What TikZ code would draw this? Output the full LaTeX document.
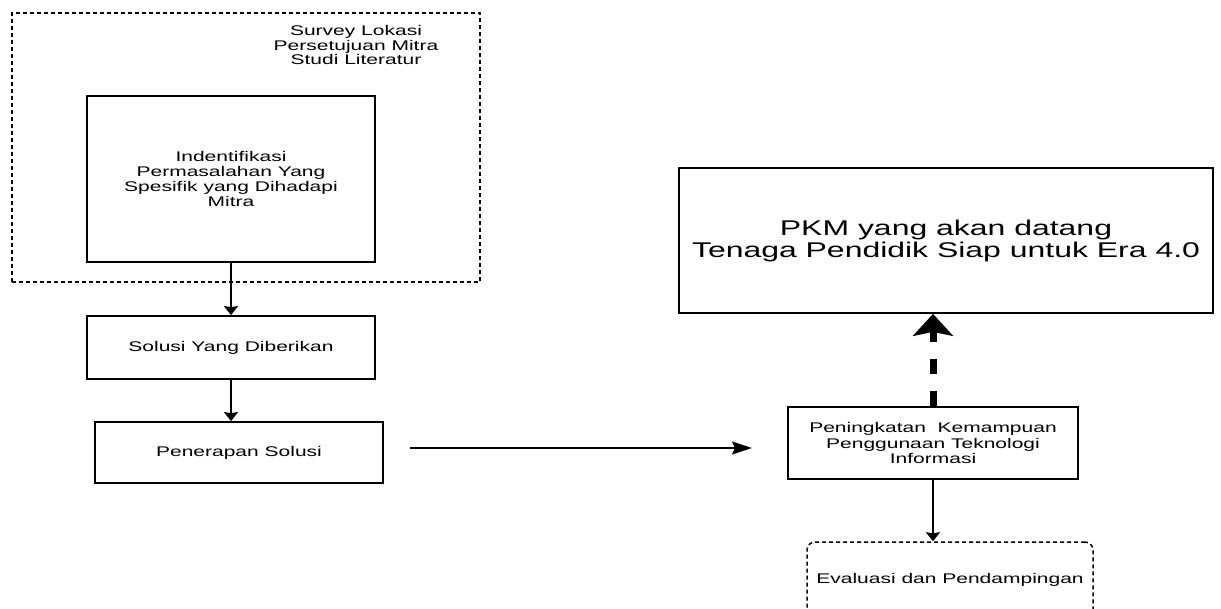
\documentclass[tikz,border=0pt]{standalone}
\usepackage{fontspec}
\setmainfont{Liberation Sans}[FakeStretch=1.5]
\usepackage{tikz}
\usetikzlibrary{arrows.meta}

\begin{document}
\begin{tikzpicture}
        [x=1pt, y=-1pt, every node/.style={draw, line width=1.8pt, rectangle, align=center, inner sep=0pt},
         teks/.style={font=\fontsize{14}{15.3}\selectfont},
         putus/.style={dash pattern=on 4pt off 3pt, line width=1.5pt},
         arr/.style={line width=1.8pt, -{Stealth[length=9pt,width=14pt,inset=1pt]}},
         arrh/.style={line width=1.8pt, -{Stealth[length=20pt,width=13pt,inset=3pt]}},
         tebal/.style={line width=7pt, dash pattern=on 15pt off 17pt, -{Stealth[length=22pt,width=40pt,inset=4pt]}}]
        \clip (0,0) rectangle (1221,608);
        % tahap awal
        \node[putus, minimum width=468, minimum height=269] (tahap) at (246,147.5) {};
        \node[draw=none, teks, font=\fontsize{14}{14.5}\selectfont] (survei) at (356,45) {Survey Lokasi\\Persetujuan Mitra\\Studi Literatur};
        \node[teks, minimum width=288, minimum height=166] (ident) at (231,179) {Indentifikasi\\Permasalahan Yang\\Spesifik yang Dihadapi\\Mitra};
        \node[teks, minimum width=288, minimum height=63] (solusi) at (231,347.5) {Solusi Yang Diberikan};
        \node[teks, minimum width=288, minimum height=61] (penerapan) at (239,452.5) {Penerapan Solusi};
        % hasil
        \node[teks, minimum width=290, minimum height=72] (peningkatan) at (933,443) {Peningkatan\ \ Kemampuan\\Penggunaan Teknologi\\Informasi};
        \node[font=\fontsize{21.3}{22}\selectfont, minimum width=534, minimum height=145] (pkm) at (946,240.5) {PKM yang akan datang\\Tenaga Pendidik Siap untuk Era 4.0};
        \node[teks, putus, rounded corners=8pt, minimum width=286, minimum height=76] (evaluasi) at (950,580) {Evaluasi dan Pendampingan};

        \coordinate (ha) at (410,448);
        \coordinate (hb) at (752,448);

        \foreach \from/\to in {ident/solusi,solusi/penerapan,peningkatan/evaluasi}
        \draw[arr] (\from.south) -- (\from.south |- \to.north);
        \draw[arrh] (ha) -- (hb);
        \draw[tebal] (peningkatan.north) -- (peningkatan.north |- pkm.south);
    \end{tikzpicture}
\end{document}
